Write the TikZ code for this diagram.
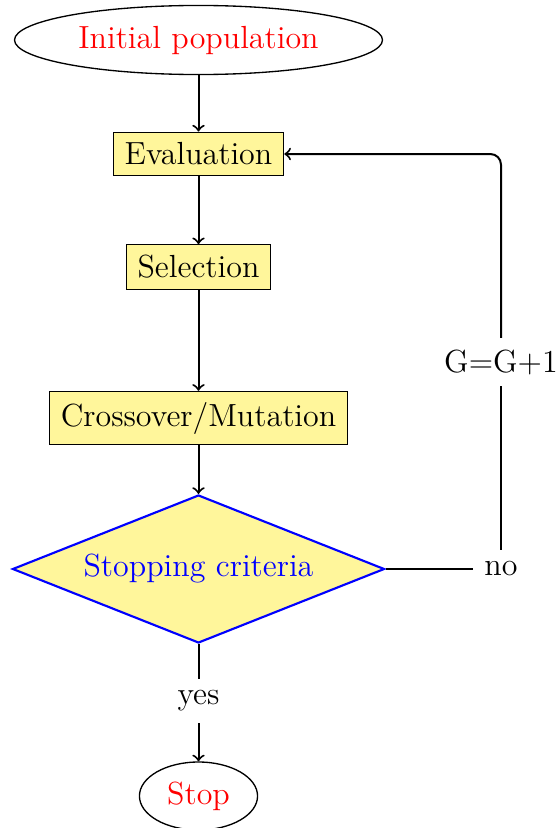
\documentclass[tikz,border=0pt]{standalone}
\usetikzlibrary{shapes.geometric}
\definecolor{boxfill}{RGB}{255,246,155}
\begin{document}
\begin{tikzpicture}[x=0.375pt,y=-0.375pt,
  every node/.style={font=\fontsize{12}{14.4}\selectfont},
  startstop/.style={ellipse,draw,line width=0.5pt,text=red,inner sep=0pt},
  procbox/.style={rectangle,draw,line width=0.4pt,fill=boxfill,inner xsep=4.3pt,inner ysep=4pt},
  decision/.style={diamond,draw=blue,line width=0.8pt,fill=boxfill,text=blue,inner sep=0pt,aspect=2.51,minimum width=139.5pt,minimum height=55.5pt},
  lbl/.style={inner sep=4.2pt},
  conn/.style={line width=0.75pt,->},
  line/.style={line width=0.75pt}]
\useasboundingbox (0,0) rectangle (558,828);
\node[startstop,minimum width=138pt,minimum height=25.9pt] (init) at (198.5,40) {Initial population};
\node[procbox] (eval) at (198.5,154) {Evaluation};
\node[procbox] (sel) at (198.5,267) {Selection};
\node[procbox] (cross) at (198.5,418) {Crossover/Mutation};
\node[decision] (crit) at (198.5,569) {Stopping criteria};
\node[lbl] (no) at (501,569) {no};
\node[lbl] (gg) at (501,362) {G=G+1};
\node[lbl] (yes) at (198.5,701) {yes};
\node[startstop,minimum width=44.3pt,minimum height=25.5pt] (stop) at (198.5,796) {Stop};
\draw[conn] (init) -- (eval);
\draw[conn] (eval) -- (sel);
\draw[conn] (sel) -- (cross);
\draw[conn] (cross) -- (crit);
\draw[line] (crit) -- (yes);
\draw[conn] (yes) -- (stop);
\draw[line] (crit.east) -- (no);
\draw[line] (no) -- (gg);
\draw[conn,rounded corners=4pt] (gg.north) |- (eval.east);
\end{tikzpicture}
\end{document}
